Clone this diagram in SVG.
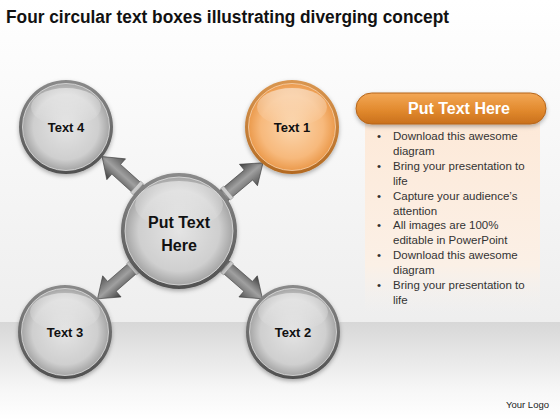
<svg xmlns="http://www.w3.org/2000/svg" width="560" height="420" viewBox="0 0 560 420">
<defs>
<linearGradient id="bg" x1="0" y1="0" x2="0" y2="1">
<stop offset="0" stop-color="#ffffff"/>
<stop offset="1" stop-color="#eeeeee"/>
</linearGradient>
<linearGradient id="band" x1="0" y1="0" x2="0" y2="1">
<stop offset="0" stop-color="#d7d7d7"/>
<stop offset="0.7" stop-color="#f7f7f7"/>
<stop offset="1" stop-color="#ffffff"/>
</linearGradient>
<linearGradient id="ringGray" x1="0" y1="0" x2="0" y2="1">
<stop offset="0" stop-color="#8a8a8a"/>
<stop offset="1" stop-color="#505050"/>
</linearGradient>
<radialGradient id="fillGray" cx="0.5" cy="0.5" r="0.5">
<stop offset="0" stop-color="#e4e4e4"/>
<stop offset="0.75" stop-color="#cfcfcf"/>
<stop offset="1" stop-color="#a5a5a5"/>
</radialGradient>
<linearGradient id="ringOrange" x1="0" y1="0" x2="0" y2="1">
<stop offset="0" stop-color="#d99650"/>
<stop offset="1" stop-color="#b36a22"/>
</linearGradient>
<radialGradient id="fillOrange" cx="0.5" cy="0.5" r="0.5">
<stop offset="0" stop-color="#fbd6ae"/>
<stop offset="0.72" stop-color="#f7b97c"/>
<stop offset="1" stop-color="#eb9a4c"/>
</radialGradient>
<linearGradient id="gloss" x1="0" y1="0" x2="0" y2="1">
<stop offset="0" stop-color="#ffffff" stop-opacity="0.5"/>
<stop offset="1" stop-color="#ffffff" stop-opacity="0"/>
</linearGradient>
<linearGradient id="arrowGrad" gradientUnits="userSpaceOnUse" x1="0" y1="-13" x2="0" y2="13">
<stop offset="0" stop-color="#444444"/>
<stop offset="0.5" stop-color="#a0a0a0"/>
<stop offset="1" stop-color="#5a5a5a"/>
</linearGradient>
<linearGradient id="pill" x1="0" y1="0" x2="0" y2="1">
<stop offset="0" stop-color="#f3a857"/>
<stop offset="0.55" stop-color="#e28a2e"/>
<stop offset="1" stop-color="#c9701c"/>
</linearGradient>
<linearGradient id="panelGrad" x1="0" y1="0" x2="0" y2="1">
<stop offset="0" stop-color="#fde9d8"/>
<stop offset="0.75" stop-color="#fbf0e6"/>
<stop offset="1" stop-color="#f4f1ee" stop-opacity="0"/>
</linearGradient>
<filter id="shadow" x="-20%" y="-20%" width="140%" height="150%">
<feDropShadow dx="0" dy="2" stdDeviation="2" flood-color="#000" flood-opacity="0.3"/>
</filter>
<polygon id="arrow" points="-4,-6.5 28,-6.5 28,-14 47,0 28,14 28,6.5 -4,6.5"/>
</defs>
<style>
.lbl{font-family:"Liberation Sans",Arial,sans-serif;font-weight:bold;fill:#111;text-anchor:middle}
.bul{font-family:"Liberation Sans",Arial,sans-serif;font-size:11.5px;fill:#333}
.ring{fill:url(#ringGray);filter:url(#shadow)}
.inner{fill:url(#fillGray);stroke:#e0e0e0;stroke-width:0.8}
.ringO{fill:url(#ringOrange);filter:url(#shadow)}
.innerO{fill:url(#fillOrange);stroke:#f8d3ae;stroke-width:0.8}
.gl{fill:url(#gloss)}
.arr{fill:url(#arrowGrad);stroke:#3e3e3e;stroke-width:0.6}
.stub{fill:#cfcfcf;stroke:#888;stroke-width:0.5}
</style>

<rect x="0" y="0" width="560" height="322" fill="url(#bg)"/>
<rect x="0" y="322" width="560" height="98" fill="url(#band)"/>

<text x="6" y="23" font-family="'Liberation Sans',Arial,sans-serif" font-weight="bold" font-size="18" fill="#111" textLength="443" lengthAdjust="spacingAndGlyphs">Four circular text boxes illustrating diverging concept</text>

<g id="connectors">
<g transform="translate(137,188) rotate(-138)"><use href="#arrow" class="arr"/><rect x="-2" y="-7.5" width="4" height="15" class="stub"/></g>
<g transform="translate(227,193) rotate(-40)"><use href="#arrow" class="arr"/><rect x="-2" y="-7.5" width="4" height="15" class="stub"/></g>
<g transform="translate(133,268) rotate(139)"><use href="#arrow" class="arr"/><rect x="-2" y="-7.5" width="4" height="15" class="stub"/></g>
<g transform="translate(227,268) rotate(41)"><use href="#arrow" class="arr"/><rect x="-2" y="-7.5" width="4" height="15" class="stub"/></g>
</g>

<g id="center">
<circle cx="179" cy="231" r="58" class="ring"/>
<circle cx="179" cy="231" r="54" class="inner"/>
<ellipse cx="179" cy="205" rx="44" ry="24" class="gl"/>
<text x="179" y="228" class="lbl" font-size="16">Put Text</text>
<text x="179" y="251" class="lbl" font-size="16">Here</text>
</g>

<g id="text4">
<circle cx="66" cy="127" r="47" class="ring"/>
<circle cx="66" cy="127" r="43.5" class="inner"/>
<ellipse cx="66" cy="107" rx="35" ry="19" class="gl"/>
<text x="66" y="131.5" class="lbl" font-size="13">Text 4</text>
</g>

<g id="text1">
<circle cx="292" cy="127" r="47" class="ringO"/>
<circle cx="292" cy="127" r="43.5" class="innerO"/>
<ellipse cx="292" cy="107" rx="35" ry="19" class="gl"/>
<text x="292" y="131.5" class="lbl" font-size="13">Text 1</text>
</g>

<g id="text3">
<circle cx="65" cy="332" r="47" class="ring"/>
<circle cx="65" cy="332" r="43.5" class="inner"/>
<ellipse cx="65" cy="312" rx="35" ry="19" class="gl"/>
<text x="65" y="336.5" class="lbl" font-size="13">Text 3</text>
</g>

<g id="text2">
<circle cx="293" cy="332" r="47" class="ring"/>
<circle cx="293" cy="332" r="43.5" class="inner"/>
<ellipse cx="293" cy="312" rx="35" ry="19" class="gl"/>
<text x="293" y="336.5" class="lbl" font-size="13">Text 2</text>
</g>

<g id="panel">
<rect x="365" y="118" width="175" height="196" fill="url(#panelGrad)"/>
<rect x="356" y="93" width="190" height="31" rx="15.5" ry="15.5" fill="url(#pill)" stroke="#b5651a" stroke-width="1" filter="url(#shadow)"/>
<text x="459" y="114" font-family="'Liberation Sans',Arial,sans-serif" font-weight="bold" font-size="16" fill="#ffffff" text-anchor="middle">Put Text Here</text>
<g class="bul">
<text x="377" y="140.2">•</text><text x="393" y="140.2">Download this awesome</text>
<text x="393" y="155">diagram</text>
<text x="377" y="169.9">•</text><text x="393" y="169.9">Bring your presentation to</text>
<text x="393" y="184.8">life</text>
<text x="377" y="199.6">•</text><text x="393" y="199.6">Capture your audience’s</text>
<text x="393" y="214.5">attention</text>
<text x="377" y="229.3">•</text><text x="393" y="229.3">All images are 100%</text>
<text x="393" y="244.2">editable in PowerPoint</text>
<text x="377" y="259">•</text><text x="393" y="259">Download this awesome</text>
<text x="393" y="273.9">diagram</text>
<text x="377" y="288.7">•</text><text x="393" y="288.7">Bring your presentation to</text>
<text x="393" y="303.6">life</text>
</g>
</g>

<text x="549" y="408" font-family="'Liberation Sans',Arial,sans-serif" font-size="9.5" fill="#222" text-anchor="end">Your Logo</text>
</svg>
